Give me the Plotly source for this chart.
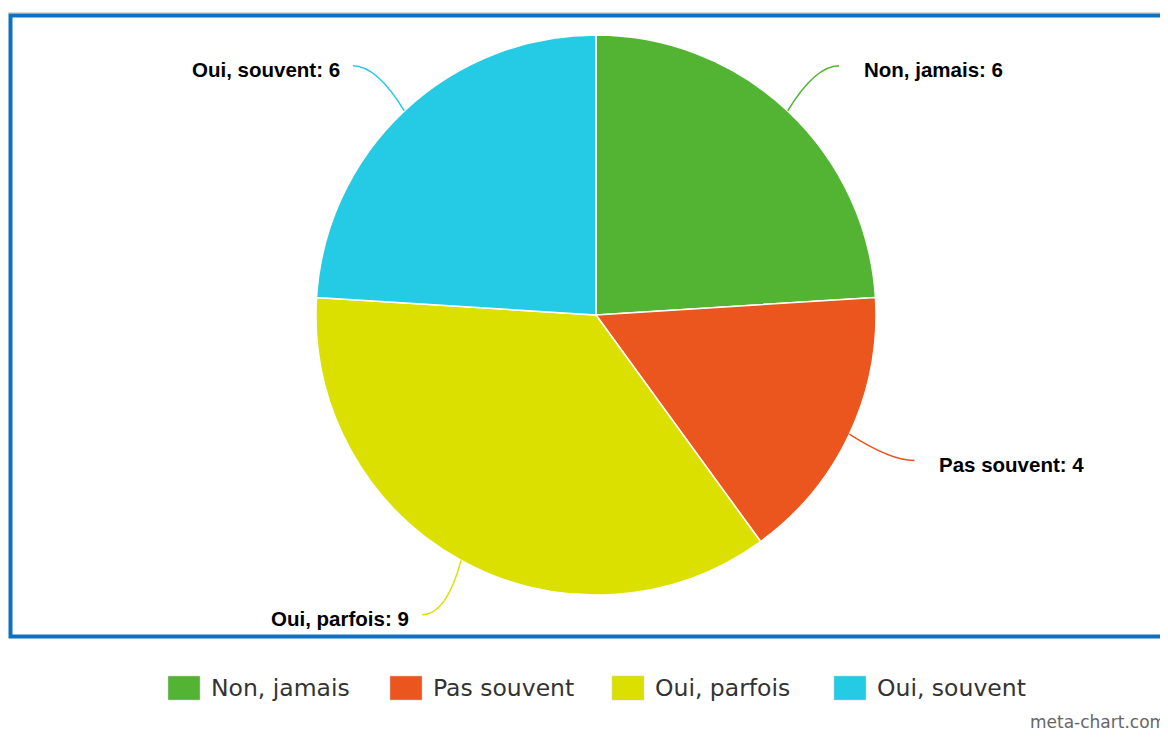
import math
import plotly.graph_objects as go

labels = ['Non, jamais', 'Pas souvent', 'Oui, parfois', 'Oui, souvent']
values = [6, 4, 9, 6]
colors = ['#53b433', '#eb561f', '#dce000', '#25cbe5']

# page is 1168x740 but the html body keeps an 8px margin
OFF = 8
W, H = 1168 - OFF, 740 - 2 * OFF
CX, CY, R = 596, 315, 280
LINE_OUT = 62      # connector end, beyond the pie edge
LINE_SIDE = 9      # extra horizontal reach of the connector


def px(x):
    return (x - OFF) / W


def py(y):
    return 1 - (y - OFF) / H


fig = go.Figure()
fig.add_trace(go.Pie(
    labels=labels, values=values, sort=False, direction='clockwise', rotation=0,
    marker=dict(colors=colors, line=dict(color='white', width=1.5)),
    textinfo='none', hoverinfo='label+value', showlegend=False,
    domain=dict(x=[px(CX - R), px(CX + R)], y=[py(CY + R), py(CY - R)]),
))

shapes = []
annotations = []

# frame
shapes.append(dict(type='line', xref='paper', yref='paper',
                   x0=px(8), x1=px(1200), y0=py(12.8), y1=py(12.8),
                   line=dict(color='#c8c8c8', width=1), layer='below'))
shapes.append(dict(type='rect', xref='paper', yref='paper',
                   x0=px(10.5), x1=px(1200), y0=py(636.5), y1=py(15.5),
                   line=dict(color='#1070c0', width=4), layer='below'))

# outside labels with curved connectors
total = sum(values)
cum = 0
for lab, val, col in zip(labels, values, colors):
    mid = (cum + val / 2) / total * 2 * math.pi
    cum += val
    s, c = math.sin(mid), math.cos(mid)
    side = 1 if s >= 0 else -1
    x0, y0 = CX + R * s, CY - R * c
    x1 = CX + (R + LINE_OUT) * s + side * LINE_SIDE
    y1 = CY - (R + LINE_OUT) * c
    qx, qy = x1 - side * 24, y1
    path = f'M{px(x0)},{py(y0)} Q{px(qx)},{py(qy)} {px(x1)},{py(y1)}'
    shapes.append(dict(type='path', xref='paper', yref='paper', path=path,
                       line=dict(color=col, width=1.5)))
    gap = 23 if side > 0 else 11
    annotations.append(dict(
        xref='paper', yref='paper', x=px(x1 + side * gap), y=py(y1 + 4),
        text=f'<b>{lab}: {val}</b>', showarrow=False,
        xanchor='left' if side > 0 else 'right', yanchor='middle',
        font=dict(family='Liberation Sans, Arial', size=20.5, color='#000000'),
    ))

# legend drawn by hand so the swatches match the original size
for i, (lab, col) in enumerate(zip(labels, colors)):
    lx = 168 + i * 222
    shapes.append(dict(type='rect', xref='paper', yref='paper',
                       x0=px(lx), x1=px(lx + 32), y0=py(700), y1=py(676),
                       fillcolor=col, line=dict(color='#cccccc', width=0.5)))
    annotations.append(dict(
        xref='paper', yref='paper', x=px(lx + 41), y=py(688), text=lab,
        showarrow=False, xanchor='left', yanchor='middle',
        font=dict(family='DejaVu Sans', size=23.5, color='#333333'),
    ))

annotations.append(dict(
    xref='paper', yref='paper', x=px(1028), y=py(722), text='meta-chart.com',
    showarrow=False, xanchor='left', yanchor='middle',
    font=dict(family='DejaVu Sans', size=17, color='#666666'),
))

fig.update_layout(
    width=W, height=H, margin=dict(l=0, r=0, t=0, b=0),
    paper_bgcolor='white', plot_bgcolor='white',
    shapes=shapes, annotations=annotations, showlegend=False,
)

fig.write_html('out.html')
